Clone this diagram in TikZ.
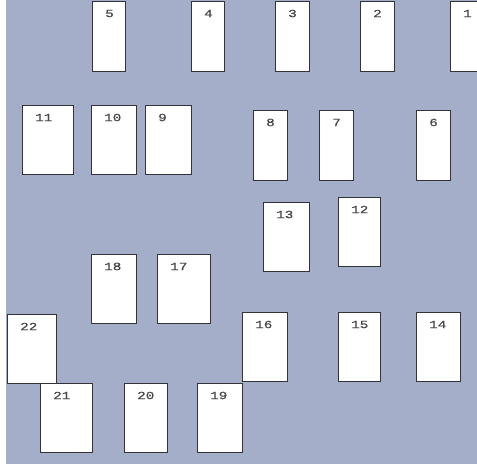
\documentclass[tikz,border=0pt]{standalone}
\usepackage{fontspec}
\newfontfamily\lab[FakeStretch=1.3,FakeBold=0.6]{Liberation Mono}
\definecolor{bgc}{RGB}{164,174,200}
\definecolor{edgec}{RGB}{50,52,58}
\definecolor{txtc}{RGB}{72,72,72}
\tikzset{
  box/.style={draw=edgec, fill=white, line width=1.4pt, rectangle, inner sep=0pt, anchor=north west},
  lbl/.style={anchor=west, inner sep=0pt, font=\lab\fontsize{11}{12}\selectfont, text=txtc}
}
\newcommand\bx[5]{%
  \node[box, minimum width=#4pt, minimum height=#5pt] (b#1) at (#2,#3) {};
  \node[lbl] (t#1) at ([xshift=13pt,yshift=-12.5pt]b#1.north west) {#1};}
\begin{document}
\begin{tikzpicture}[x=1pt,y=-1pt]
\useasboundingbox (0,0) rectangle (477,466);
\clip (0,0) rectangle (477,466);
\fill[white] (0,0) rectangle (477,466);
\fill[bgc] (6,0) rectangle (477,464);
\bx{1}{450}{1}{40}{70}
\bx{2}{360}{1}{34}{70}
\bx{3}{275}{1}{34}{70}
\bx{4}{191}{1}{33}{70}
\bx{5}{92}{1}{33}{70}
\bx{6}{416}{110}{34}{70}
\bx{7}{319}{110}{34}{70}
\bx{8}{253}{110}{34}{70}
\bx{9}{145}{105}{46}{69}
\bx{10}{91}{105}{45}{69}
\bx{11}{22}{105}{51}{69}
\bx{12}{338}{197}{42}{69}
\bx{13}{263}{202}{46}{69}
\bx{14}{416}{312}{44}{69}
\bx{15}{338}{312}{42}{69}
\bx{16}{242}{312}{45}{69}
\bx{17}{157}{254}{53}{69}
\bx{18}{91}{254}{45}{69}
\bx{19}{197}{383}{45}{69}
\bx{20}{124}{383}{43}{69}
\bx{21}{40}{383}{52}{69}
\bx{22}{7}{314}{49}{69}
\end{tikzpicture}
\end{document}
